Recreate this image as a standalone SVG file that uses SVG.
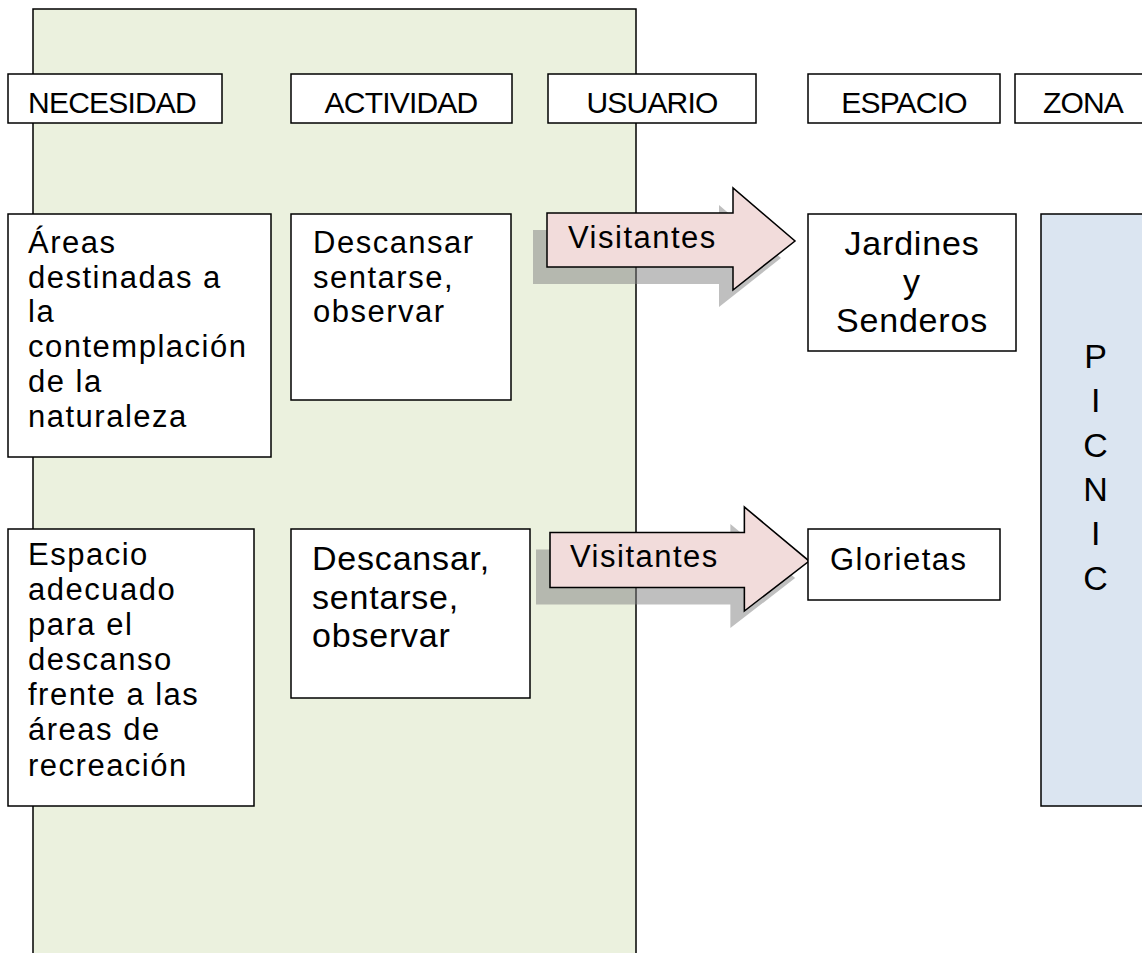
<svg xmlns="http://www.w3.org/2000/svg" width="1142" height="953" viewBox="0 0 1142 953">
<defs>
<style>
.box{fill:#ffffff;stroke:#000000;stroke-width:1.5}
.hdr{font-family:"Liberation Sans",Arial,sans-serif;font-size:30px;fill:#000;text-anchor:middle;letter-spacing:-0.8px}
.t{font-family:"Liberation Sans",Arial,sans-serif;font-size:31px;fill:#000;letter-spacing:1.5px}
.t34{font-family:"Liberation Sans",Arial,sans-serif;font-size:34px;fill:#000;letter-spacing:0.8px}
.mid{text-anchor:middle}
.arrow{fill:#f2dcdb;stroke:#000;stroke-width:1.5;stroke-linejoin:miter}
.shadow{fill:#808080;fill-opacity:0.5}
</style>
<path id="arrowShape" d="M0,25 L186,25 L186,0 L248,53 L186,102 L186,79 L0,79 Z"/>
</defs>
<rect width="1142" height="953" fill="#ffffff"/>
<g id="column-background">
<rect x="33" y="9" width="603" height="960" fill="#ebf1de" stroke="#000" stroke-width="1.5"/>
</g>
<g id="header-necesidad"><rect class="box" x="8" y="74" width="214" height="49"/><text class="hdr" x="112" y="113">NECESIDAD</text></g>
<g id="header-actividad"><rect class="box" x="291" y="74" width="221" height="49"/><text class="hdr" x="401" y="113">ACTIVIDAD</text></g>
<g id="header-usuario"><rect class="box" x="548" y="74" width="208" height="49"/><text class="hdr" x="652" y="113">USUARIO</text></g>
<g id="header-espacio"><rect class="box" x="808" y="74" width="192" height="49"/><text class="hdr" x="904" y="113">ESPACIO</text></g>
<g id="header-zona"><rect class="box" x="1015" y="74" width="140" height="49"/><text class="hdr" x="1083" y="113">ZONA</text></g>

<g id="necesidad-1"><rect class="box" x="8" y="214" width="263" height="243"/>
<text class="t" x="28" y="253">Áreas</text>
<text class="t" x="28" y="288">destinadas a</text>
<text class="t" x="28" y="322">la</text>
<text class="t" x="28" y="357">contemplación</text>
<text class="t" x="28" y="392">de la</text>
<text class="t" x="28" y="427">naturaleza</text>
</g>
<g id="actividad-1"><rect class="box" x="291" y="214" width="220" height="186"/>
<text class="t" x="313" y="253">Descansar</text>
<text class="t" x="313" y="288">sentarse,</text>
<text class="t" x="313" y="322">observar</text>
</g>
<g id="necesidad-2"><rect class="box" x="8" y="529" width="246" height="277"/>
<text class="t" x="28" y="565">Espacio</text>
<text class="t" x="28" y="600">adecuado</text>
<text class="t" x="28" y="635">para el</text>
<text class="t" x="28" y="670">descanso</text>
<text class="t" x="28" y="705">frente a las</text>
<text class="t" x="28" y="740">áreas de</text>
<text class="t" x="28" y="776">recreación</text>
</g>
<g id="actividad-2"><rect class="box" x="291" y="529" width="239" height="169"/>
<text class="t34" x="312" y="570">Descansar,</text>
<text class="t34" x="312" y="609">sentarse,</text>
<text class="t34" x="312" y="647">observar</text>
</g>

<g id="connectors">
<g id="arrow-1">
<use href="#arrowShape" class="shadow" transform="translate(533,205)"/>
<use href="#arrowShape" class="arrow" transform="translate(547,188)"/>
<text class="t" x="568" y="248">Visitantes</text>
</g>
<g id="arrow-2">
<use href="#arrowShape" class="shadow" transform="translate(536,524) scale(1.045,1.02)"/>
<use href="#arrowShape" class="arrow" transform="translate(550,507) scale(1.045,1.02)"/>
<text class="t" x="570" y="567">Visitantes</text>
</g>
</g>

<g id="espacio-1"><rect class="box" x="808" y="214" width="208" height="137"/>
<text class="t34 mid" x="912" y="255">Jardines</text>
<text class="t34 mid" x="912" y="293">y</text>
<text class="t34 mid" x="912" y="332">Senderos</text>
</g>
<g id="espacio-2"><rect class="box" x="808" y="529" width="192" height="71"/>
<text class="t" x="830" y="570">Glorietas</text>
</g>
<g id="zona-picnic"><rect x="1041" y="214" width="120" height="592" fill="#dbe5f1" stroke="#000" stroke-width="1.5"/>
<text class="t34 mid" x="1096" y="368">P</text>
<text class="t34 mid" x="1096" y="412">I</text>
<text class="t34 mid" x="1096" y="457">C</text>
<text class="t34 mid" x="1096" y="501">N</text>
<text class="t34 mid" x="1096" y="545">I</text>
<text class="t34 mid" x="1096" y="590">C</text>
</g>
</svg>
